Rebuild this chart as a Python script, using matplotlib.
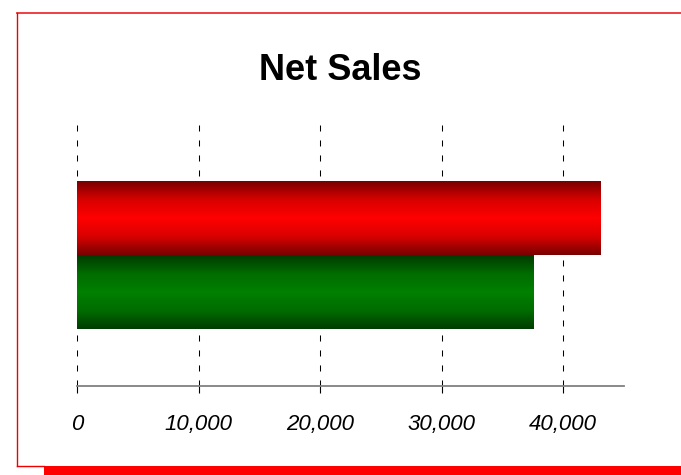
import numpy as np
import matplotlib
matplotlib.use("Agg")
import matplotlib.pyplot as plt
from matplotlib.lines import Line2D
from matplotlib.patches import Rectangle
from matplotlib.colors import LinearSegmentedColormap
from matplotlib.ticker import FuncFormatter

# data
series = ["Series 1", "Series 2"]
values = [43100, 37600]
x_ticks = [0, 10000, 20000, 30000, 40000]
title = "Net Sales"

plt.rcParams['font.family'] = ['Liberation Sans', 'DejaVu Sans']

W, H = 681, 475
fig = plt.figure(figsize=(W / 100, H / 100), dpi=100)
fig.patch.set_facecolor("white")

ax = fig.add_axes([77 / W, 1 - 386 / H, (623.75 - 77) / W, (386 - 125) / H])

# red on top, green below
ypos = [0.14, -0.14]
bars = ax.barh(ypos, values, height=0.28, color="none", edgecolor="none", zorder=2)

# vertical gradient, dark at edges, bright in middle
grads = [
    LinearSegmentedColormap.from_list("r", ["#780000", "#d80000", "#ff0000", "#d80000", "#780000"]),
    LinearSegmentedColormap.from_list("g", ["#003c00", "#006c00", "#008000", "#006c00", "#003a00"]),
]
g = np.linspace(0, 1, 256).reshape(-1, 1)
for bar, cmap in zip(bars, grads):
    x0, y0 = bar.get_x(), bar.get_y()
    w, h = bar.get_width(), bar.get_height()
    ax.imshow(g, cmap=cmap, aspect="auto", extent=[x0, x0 + w, y0, y0 + h],
              origin="lower", zorder=2, interpolation="bilinear")

ax.set_xlim(0, 45000)
ax.set_ylim(-0.5, 0.5)
ax.set_xticks(x_ticks)
ax.xaxis.set_major_formatter(FuncFormatter(lambda v, p: "{:,.0f}".format(v)))
ax.set_yticks([])

for side in ["top", "left", "right"]:
    ax.spines[side].set_visible(False)
ax.spines["bottom"].set_color("#808080")
ax.spines["bottom"].set_linewidth(1.3)

ax.tick_params(axis="x", direction="out", length=5, width=0.8, color="black",
               pad=15, labelsize=16)
for lbl in ax.get_xticklabels():
    lbl.set_fontstyle("italic")

ax.set_axisbelow(True)
ax.xaxis.grid(True, color="black", linewidth=0.75, linestyle=(0, (5.8, 8.6)))

fig.text(340 / W, 1 - 71 / H, title, ha="center", va="center",
         fontsize=26, fontweight="bold")

# frame: thin red top/left and thick red shadow at bottom
fig.add_artist(Line2D([17 / W, 1], [1 - 13 / H, 1 - 13 / H], color="#ee3030", lw=1.3))
fig.add_artist(Line2D([17 / W, 17 / W], [1 - 13 / H, 1 - 466 / H], color="#ee0000", lw=1.0))
fig.add_artist(Line2D([17 / W, 44 / W], [1 - 466 / H, 1 - 466 / H], color="#ee0000", lw=1.0))
fig.add_artist(Rectangle((44 / W, 0), 1 - 44 / W, 9.5 / H, transform=fig.transFigure,
                         facecolor="#ff0000", edgecolor="none"))

fig.savefig("out.png", dpi=100)
